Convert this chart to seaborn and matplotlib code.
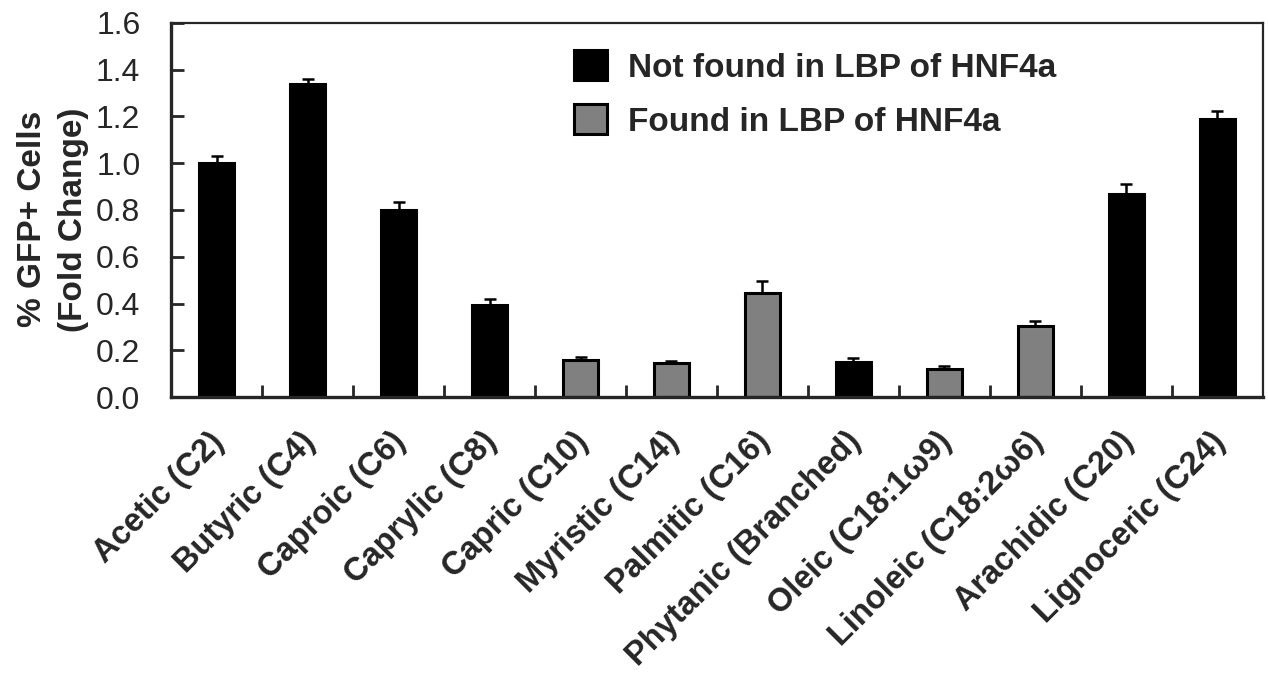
import matplotlib
matplotlib.use('Agg')
import matplotlib.pyplot as plt
import matplotlib.transforms as mtransforms
import seaborn as sns
import pandas as pd
import numpy as np

categories = ['Acetic (C2)', 'Butyric (C4)', 'Caproic (C6)', 'Caprylic (C8)',
              'Capric (C10)', 'Myristic (C14)', 'Palmitic (C16)',
              'Phytanic (Branched)', 'Oleic (C18:1\u03c99)',
              'Linoleic (C18:2\u03c96)', 'Arachidic (C20)', 'Lignoceric (C24)']
fold_change = [1.00, 1.34, 0.80, 0.395, 0.16, 0.145, 0.445, 0.15, 0.12, 0.305, 0.868, 1.19]
error_up = [0.03, 0.02, 0.035, 0.025, 0.01, 0.008, 0.05, 0.018, 0.013, 0.022, 0.042, 0.035]
groups = ['Not found in LBP of HNF4a'] * 4 + ['Found in LBP of HNF4a'] * 3 + \
         ['Not found in LBP of HNF4a'] + ['Found in LBP of HNF4a'] * 2 + \
         ['Not found in LBP of HNF4a'] * 2
group_order = ['Not found in LBP of HNF4a', 'Found in LBP of HNF4a']
palette = {'Not found in LBP of HNF4a': '#000000', 'Found in LBP of HNF4a': '#808080'}

df = pd.DataFrame({'Acid': categories, 'Fold change': fold_change, 'Group': groups})

sns.set_style('ticks')
plt.rcParams['font.family'] = ['Liberation Sans', 'DejaVu Sans']

fig = plt.figure(figsize=(12.68, 6.73), dpi=100)
ax = fig.add_axes([0.1349, 0.410, 0.8611, 0.556])

sns.barplot(data=df, x='Acid', y='Fold change', hue='Group', hue_order=group_order,
            palette=palette, dodge=False, width=0.385, edgecolor='black',
            linewidth=2.2, ax=ax)

xpos = np.arange(len(categories))
ax.errorbar(xpos, fold_change, yerr=[np.zeros(len(error_up)), error_up], fmt='none',
            ecolor='black', elinewidth=1.8, capsize=4, capthick=1.8, zorder=1)

ax.set_xlim(-0.5, len(categories) - 0.5)
ax.set_ylim(0, 1.6)
ax.set_yticks(np.arange(0, 1.61, 0.2))
ax.set_yticklabels([f'{v:.1f}' for v in np.arange(0, 1.61, 0.2)])
ax.set_xticks(xpos)
ax.set_xticklabels(categories, rotation=45, ha='right', rotation_mode='anchor',
                   fontweight='bold', fontsize=23.5)
ax.set_xticks(np.arange(0.5, len(categories) - 1, 1.0), minor=True)
ax.tick_params(axis='x', which='major', length=0, pad=21)
ax.tick_params(axis='x', which='minor', direction='in', length=9, width=2)
ax.tick_params(axis='y', direction='in', length=9, width=2, labelsize=23, pad=22)

shift = mtransforms.ScaledTranslation(-0.08, 0, fig.dpi_scale_trans)
for lab in ax.get_xticklabels():
    lab.set_transform(lab.get_transform() + shift)

for side in ['left', 'bottom']:
    ax.spines[side].set_linewidth(2.4)
for side in ['top', 'right']:
    ax.spines[side].set_linewidth(1.6)
    ax.spines[side].set_visible(True)

ax.set_xlabel('')
ax.set_ylabel('% GFP+ Cells\n(Fold Change)', fontweight='bold', fontsize=24,
              linespacing=1.42)
ax.yaxis.set_label_coords(-0.075, 0.475)

leg = ax.legend(loc='upper left', bbox_to_anchor=(0.369, 0.927), frameon=False,
                prop={'weight': 'bold', 'size': 24}, handlelength=1.0,
                handleheight=1.0, handletextpad=0.62, labelspacing=0.62,
                borderpad=0, borderaxespad=0)

fig.savefig('out.png', dpi=100)
